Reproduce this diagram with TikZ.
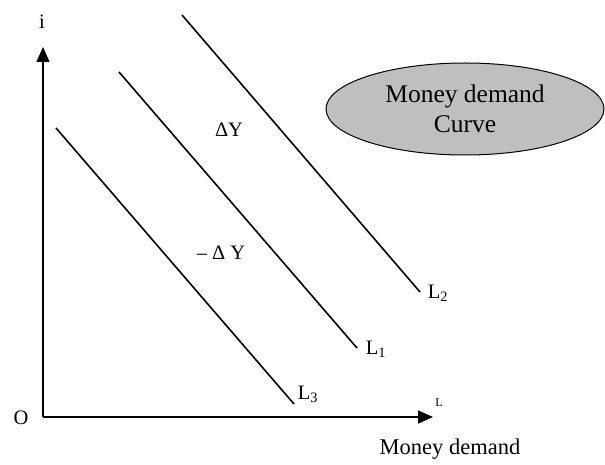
\documentclass[tikz,border=0pt]{standalone}
\usepackage{fontspec}
\setmainfont{Liberation Serif}
\usetikzlibrary{positioning}
\usetikzlibrary{arrows.meta}
\usetikzlibrary{shapes.geometric}
\tikzset{lbl/.style = {font = \fontsize{20.5}{22}\selectfont, inner sep = 0}}
\tikzset{axis/.style = {line width = 1.6pt, -{Triangle[length = 15pt, width = 13pt]}}}
\tikzset{curve/.style = {line width = 1.6pt}}
\definecolor{mgray}{rgb}{0.75, 0.75, 0.75}

\begin{document}
\begin{tikzpicture}[x = 1pt, y = 1pt]
      \useasboundingbox (0, 0) rectangle (605, 464);
      % axes
      \coordinate (o) at (43, 47);
      \coordinate (itop) at (43, 417);
      \coordinate (lend) at (433, 47);
      \draw [axis] (o) -- (itop);
      \draw [axis] (o) -- (lend);
      \node [lbl] (i) at (42, 442) {i};
      \node [lbl] (origin) at (21, 46) {O};
      \node [lbl, font = \fontsize{12}{14}\selectfont] (lsmall) at (439, 61) {L};
      \node [lbl, font = \fontsize{22.5}{24}\selectfont] (xlabel) at (450, 15) {Money demand};
      % demand curves
      \coordinate (l2a) at (182, 449);
      \coordinate (l2b) at (420, 172);
      \coordinate (l1a) at (119, 392);
      \coordinate (l1b) at (357, 116);
      \coordinate (l3a) at (56, 336);
      \coordinate (l3b) at (294, 60);
      \draw [curve] (l2a) -- (l2b);
      \draw [curve] (l1a) -- (l1b);
      \draw [curve] (l3a) -- (l3b);
      \node [lbl] (l2) at (438, 171) {L\textsubscript{2}};
      \node [lbl] (l1) at (376, 115) {L\textsubscript{1}};
      \node [lbl] (l3) at (308, 70) {L\textsubscript{3}};
      \node [lbl] (up) at (229, 334) {ΔY};
      \node [lbl] (down) at (221, 211) {– Δ Y};
      % title
      \node [ellipse, draw, fill = mgray, line width = 1pt, inner sep = 0,
        minimum width = 278pt, minimum height = 92pt, align = center,
        font = \fontsize{25.5}{30}\selectfont] (mdc) at (465, 355)
        {Money demand\\Curve};
    \end{tikzpicture}
\end{document}
